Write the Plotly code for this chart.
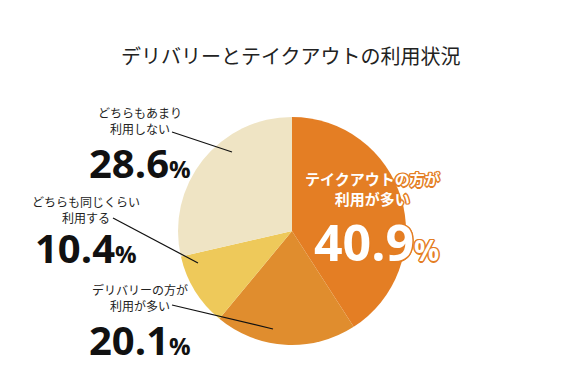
import plotly.graph_objects as go

W, H = 584, 387

categories = ["テイクアウトの方が利用が多い", "デリバリーの方が利用が多い",
              "どちらも同じくらい利用する", "どちらもあまり利用しない"]
values = [40.9, 20.1, 10.4, 28.6]
colors = ["#E47E24", "#E08D2E", "#EEC95A", "#EFE4C4"]
label_lines = [["テイクアウトの方が", "利用が多い"],
               ["デリバリーの方が", "利用が多い"],
               ["どちらも同じくらい", "利用する"],
               ["どちらもあまり", "利用しない"]]
title = "デリバリーとテイクアウトの利用状況"

JP = "Noto Sans CJK JP"
NUM = "Open Sans"
OUTLINE = ("-1px -1px 0 #E47E24, 1px -1px 0 #E47E24, -1px 1px 0 #E47E24, "
           "1px 1px 0 #E47E24, 0 1.5px 0 #E47E24, 0 -1.5px 0 #E47E24, "
           "1.5px 0 0 #E47E24, -1.5px 0 0 #E47E24")


def px(x):
    return x / W


def py(y):
    return 1 - y / H


cx, cy, r = 292, 231, 114

fig = go.Figure(go.Pie(
    labels=categories, values=values, sort=False, direction="clockwise",
    rotation=0, marker=dict(colors=colors, line=dict(width=0)),
    textinfo="none", hoverinfo="skip", showlegend=False,
    domain=dict(x=[px(cx - r), px(cx + r)], y=[py(cy + r), py(cy - r)]),
))

ann = []
ann.append(dict(text=title, x=px(291), y=py(55), font=dict(family=JP, size=20, color="#222")))


def pct(v, psize):
    return f"{v:.1f}<span style='font-size:{psize}px'>%</span>"


# label positions (center x, first line y, number y)
pos = {
    0: (372, 180, 242),
    1: (140, 289, 339),
    2: (86, 201, 248),
    3: (140, 112, 163),
}
for i, v in enumerate(values):
    x0, yl, yn = pos[i]
    if i == 0:
        ann.append(dict(text="<br>".join(label_lines[i]), x=px(x0), y=py(yl + 8),
                        font=dict(family=JP, size=15, color="white", weight=700, shadow=OUTLINE)))
        ann.append(dict(text=pct(v, 28), x=px(x0 + 4), y=py(yn),
                        font=dict(family=NUM, size=50, color="white", weight=700, shadow=OUTLINE)))
    else:
        ann.append(dict(text="<br>".join(label_lines[i]), x=px(x0), y=py(yl + 8),
                        font=dict(family=JP, size=12, color="#222")))
        ann.append(dict(text=pct(v, 24), x=px(x0), y=py(yn),
                        font=dict(family=NUM, size=40, color="#111", weight=700)))

for a in ann:
    a.update(xref="paper", yref="paper", showarrow=False, xanchor="center", yanchor="middle")

leaders = [((172, 132), (232, 152)), ((113, 218), (198, 263)), ((172, 305), (273, 329))]
shapes = [dict(type="line", xref="paper", yref="paper", x0=px(a[0]), y0=py(a[1]),
               x1=px(b[0]), y1=py(b[1]), line=dict(color="#111", width=1.2))
          for a, b in leaders]

fig.update_layout(width=W, height=H, margin=dict(l=0, r=0, t=0, b=0),
                  paper_bgcolor="white", plot_bgcolor="white",
                  annotations=ann, shapes=shapes)
fig.write_html("out.html", config={"displayModeBar": False},
               post_script="document.body.style.margin='0';")
